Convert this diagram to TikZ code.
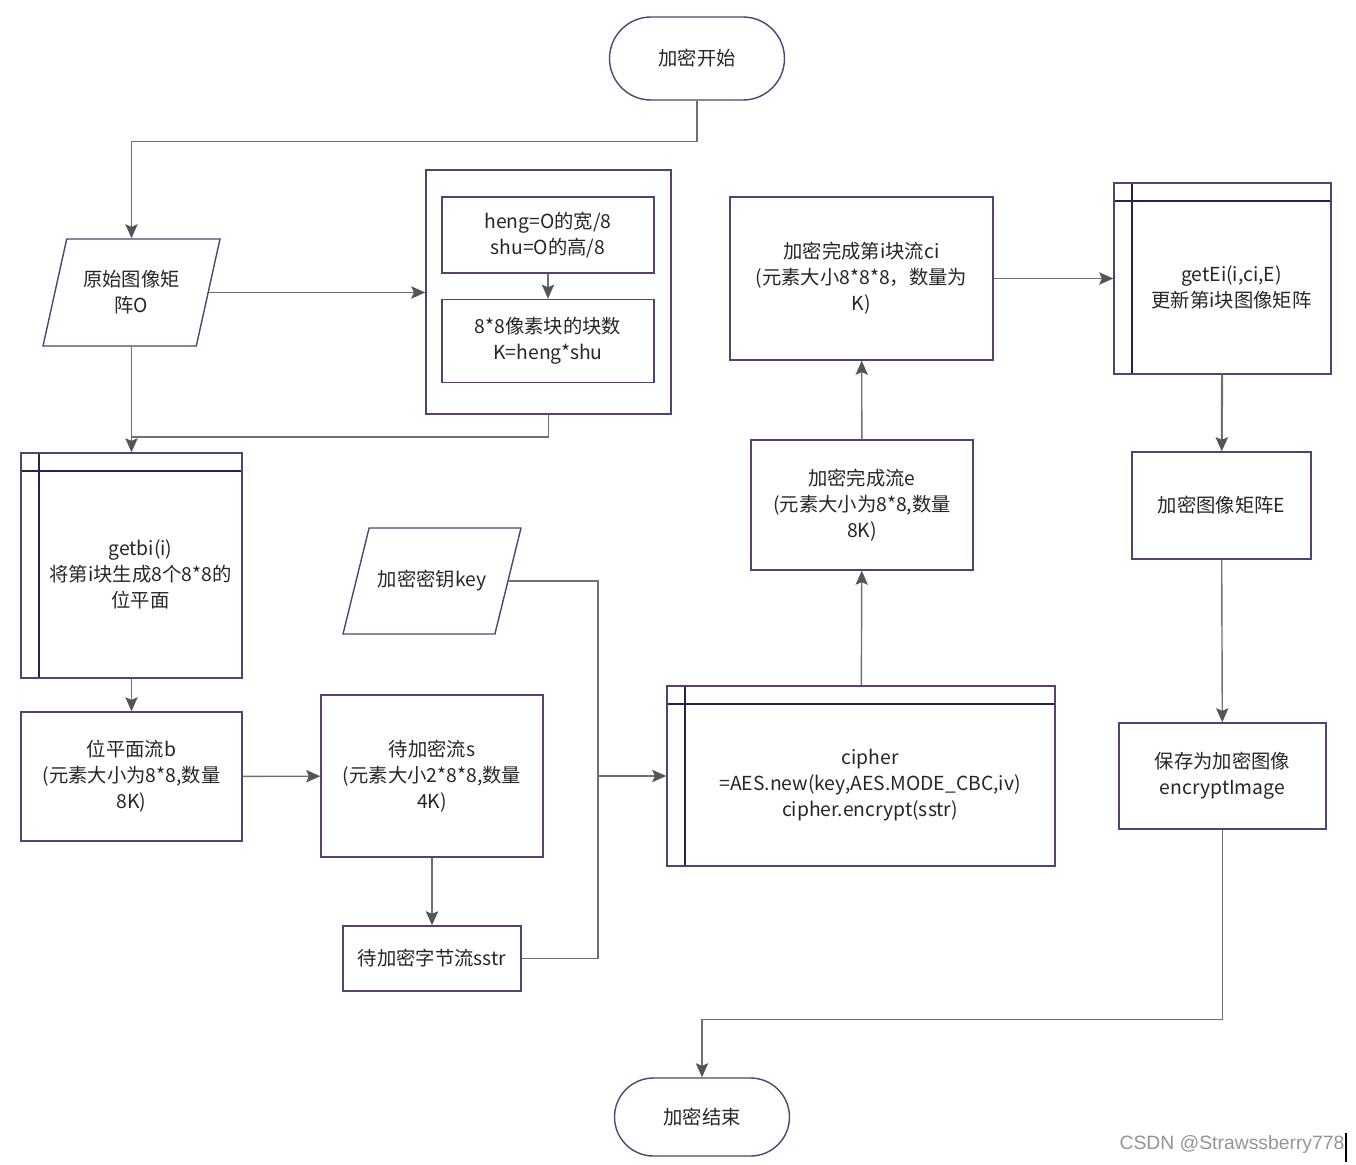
\documentclass[tikz,border=0pt]{standalone}
\usepackage{fontspec}
\setmainfont{Noto Sans CJK SC}
\newfontfamily\markfont{Liberation Sans}
\usetikzlibrary{positioning}
\usetikzlibrary{calc}
\usetikzlibrary{arrows.meta}
\usetikzlibrary{shapes.geometric}
\usetikzlibrary{shapes.misc}
\definecolor{boxline}{RGB}{84,66,112}
\definecolor{stripeline}{RGB}{46,32,78}
\definecolor{flowline}{RGB}{112,112,112}
\definecolor{tipgray}{RGB}{85,85,85}
\tikzset{
  txt/.style={align=center, font=\fontsize{11pt}{14.8pt}\selectfont, text=black!85},
  box/.style={txt, draw=boxline, line width=0.8pt, inner sep=2pt},
  term/.style={box, rounded rectangle, minimum width=3.64cm},
  io/.style={box, trapezium, trapezium left angle=65, trapezium right angle=115,
    trapezium stretches body},
  predef/.style={box, path picture={
      \draw [stripeline, line width=1.2pt] ([xshift=0.36cm]path picture bounding box.north west)
        -- ([xshift=0.36cm]path picture bounding box.south west);
      \draw [stripeline, line width=1.2pt] ([yshift=-0.36cm]path picture bounding box.north west)
        -- ([yshift=-0.36cm]path picture bounding box.north east);
  }},
  predeftxt/.style={txt, xshift=0.18cm, yshift=-0.18cm},
  link/.style={draw=flowline, line width=0.8pt},
  flow/.style={link, -{Stealth[length=8pt,width=7pt,inset=1.5pt,color=tipgray]}}
}

\begin{document}
\begin{tikzpicture}
    %\draw [help lines] (0,0) grid (27,-23);
    \useasboundingbox (0,0) rectangle (27.12,-23.28);

    \node [term, minimum height=1.66cm] (start) at (13.94,-1.17) {加密开始};
    \node [io, minimum width=3.54cm, minimum height=2.14cm] (orig) at (2.63,-5.85) {原始图像矩\\阵O};
    \node [box, minimum width=4.9cm, minimum height=4.88cm] (cont) at (10.97,-5.84) {};
    \node [box, minimum width=4.24cm, minimum height=1.52cm] (size) at (10.96,-4.70) {heng=O的宽/8\\shu=O的高/8};
    \node [box, below=0.5cm of size, minimum width=4.24cm, minimum height=1.66cm] (blocks) {8*8像素块的块数\\K=heng*shu};
    \node [predef, minimum width=4.42cm, minimum height=4.5cm,
      label={[predeftxt]center:{getbi(i)\\将第i块生成8个8*8的\\位平面}}] (getbi) at (2.63,-11.31) {};
    \node [box, minimum width=4.42cm, minimum height=2.58cm] (bstream) at (2.63,-15.53) {位平面流b\\(元素大小为8*8,数量\\8K)};
    \node [io, trapezium left angle=47, trapezium right angle=133,
      minimum width=3.56cm, minimum height=2.12cm] (key) at (8.64,-11.62) {加密密钥key};
    \node [box, minimum width=4.44cm, minimum height=3.24cm] (sstream) at (8.64,-15.52) {待加密流s\\(元素大小2*8*8,数量\\4K)};
    \node [box, minimum width=3.56cm, minimum height=1.3cm] (sstr) at (8.64,-19.17) {待加密字节流sstr};
    \node [predef, minimum width=7.76cm, minimum height=3.6cm,
      label={[predeftxt]center:{cipher\\=AES.new(key,AES.MODE\_CBC,iv)\\cipher.encrypt(sstr)}}] (cipher) at (17.22,-15.52) {};
    \node [box, minimum width=4.44cm, minimum height=2.6cm] (estream) at (17.24,-10.10) {加密完成流e\\(元素大小为8*8,数量\\8K)};
    \node [box, minimum width=5.26cm, minimum height=3.26cm] (ci) at (17.23,-5.57) {加密完成第i块流ci\\(元素大小8*8*8，数量为\\K)};
    \node [predef, minimum width=4.34cm, minimum height=3.82cm,
      label={[predeftxt]center:{getEi(i,ci,E)\\更新第i块图像矩阵}}] (getei) at (24.45,-5.57) {};
    \node [box, minimum width=3.58cm, minimum height=2.14cm] (encE) at (24.43,-10.11) {加密图像矩阵E};
    \node [box, minimum width=4.14cm, minimum height=2.12cm] (save) at (24.45,-15.52) {保存为加密图像\\encryptImage};
    \node [term, minimum height=1.56cm] (finish) at (14.04,-22.34) {加密结束};

    \coordinate (join_o) at (2.63,-8.74);
    \coordinate (merge) at (11.96,-15.52);

    \draw [flow] (start.south) -- ++(0,-0.82) -| (orig.center |- orig.north);
    \draw [flow] (orig.east) -- (orig.east -| cont.west);
    \draw [flow] (orig.center |- orig.south) -- (getbi.north);
    \draw [link] (cont.south) |- (join_o);
    \draw [flow] (size) -- (blocks);
    \draw [flow] (getbi) -- (bstream);
    \draw [flow] (bstream) -- (sstream);
    \draw [flow] (sstream) -- (sstr);
    \draw [link] (key.east) -| (merge);
    \draw [link] (sstr.east) -| (merge);
    \draw [flow] (merge) -- (cipher.west);
    \draw [flow] (cipher) -- (estream);
    \draw [flow] (estream) -- (ci);
    \draw [flow] (ci) -- (getei);
    \draw [flow, line width=1.2pt] (getei) -- (encE);
    \draw [flow] (encE) -- (save);
    \draw [flow] (save.south) -- ++(0,-3.8) -| (finish.north);

    \node [font=\markfont\fontsize{11pt}{13pt}\selectfont, text=black!42] (mark) at (24.64,-22.88) {CSDN @Strawssberry778};
    \draw [black, line width=0.6pt] (26.92,-22.66) -- (26.92,-23.24);
\end{tikzpicture}
\end{document}
